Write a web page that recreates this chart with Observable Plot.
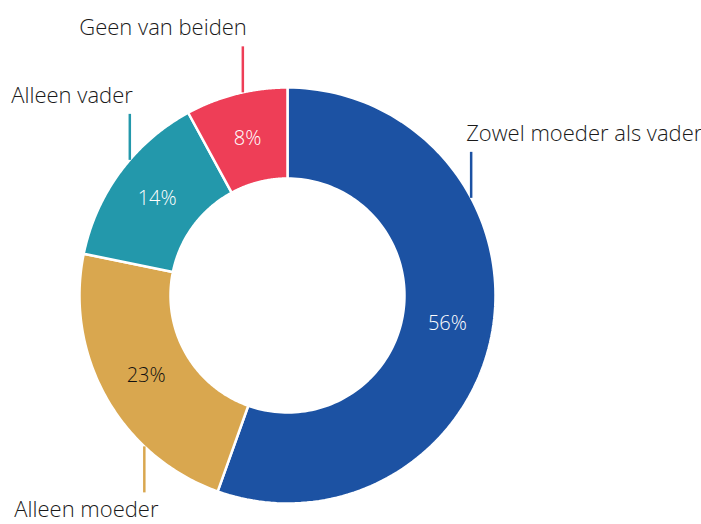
<!DOCTYPE html>
<html><head><meta charset="utf-8">
<script src="https://cdn.jsdelivr.net/npm/d3@7"></script>
<script src="https://cdn.jsdelivr.net/npm/@observablehq/plot@0.6"></script>
<style>body{margin:0;background:#fff;} svg{display:block}</style>
</head><body><div id="chart"></div>
<script>
// ---- data ----
const categories = ["Zowel moeder als vader", "Alleen moeder", "Alleen vader", "Geen van beiden"];
const values = [56, 23, 14, 8];
const colors = ["#1c52a3", "#d9a74f", "#2398ab", "#ee3e57"];
const valueTextColors = ["#ffffff", "#111111", "#ffffff", "#ffffff"];

// ---- layout ----
const W = 701, H = 524, CX = 287, CY = 295, R = 208;
const INNER = 117 / R;
const LABEL_R = 0.78;
const LEAD = 46 / R;
const leaders = [
  {angle: 62, dir: 1, anchor: "start", dx: -5, dy: -18},
  {angle: 223.5, dir: -1, anchor: "start", dx: -130, dy: 18},
  {angle: 310.7, dir: 1, anchor: "end", dx: 3, dy: -18},
  {angle: 347.6, dir: 1, anchor: "end", dx: 4, dy: -18}
];
const FONT = "'Open Sans', 'Noto Sans', sans-serif";

const arcs = d3.pie().sort(null).value(d => d)(values);
const poly = [];
arcs.forEach((a, i) => {
  const n = 120;
  for (let k = 0; k <= n; k++) {
    const t = a.startAngle + (a.endAngle - a.startAngle) * k / n;
    poly.push({key: categories[i], x: Math.sin(t), y: Math.cos(t)});
  }
  for (let k = n; k >= 0; k--) {
    const t = a.startAngle + (a.endAngle - a.startAngle) * k / n;
    poly.push({key: categories[i], x: INNER * Math.sin(t), y: INNER * Math.cos(t)});
  }
});
const pct = arcs.map((a, i) => {
  const m = (a.startAngle + a.endAngle) / 2;
  return {key: categories[i], text: values[i] + "%", x: LABEL_R * Math.sin(m), y: LABEL_R * Math.cos(m), c: valueTextColors[i]};
});
const leadData = leaders.map((l, i) => {
  const t = l.angle * Math.PI / 180;
  const x = Math.sin(t), y = Math.cos(t);
  return {key: categories[i], x1: x, y1: y, x2: x, y2: y + l.dir * LEAD, ...l};
});

const chart = Plot.plot({
  width: W, height: H,
  margin: 0,
  x: {domain: [-CX / R, (W - CX) / R], axis: null},
  y: {domain: [-(H - CY) / R, CY / R], axis: null},
  color: {domain: categories, range: colors},
  style: {fontFamily: FONT, background: "#fff"},
  marks: [
    Plot.line(poly, {x: "x", y: "y", z: "key", fill: "key", stroke: "white", strokeWidth: 2.5, curve: "linear-closed"}),
    Plot.text(pct, {x: "x", y: "y", text: "text", fill: d => d.c, fontSize: 20, fontWeight: 300}),
    Plot.link(leadData, {x1: "x1", y1: "y1", x2: "x2", y2: "y2", stroke: "key", strokeWidth: 2.5}),
    ...leadData.map(d => Plot.text([d], {x: "x2", y: "y2", text: "key", textAnchor: d.anchor, dx: d.dx, dy: d.dy, fill: "#1a1a1a", fontSize: 22, fontWeight: 300}))
  ]
});
document.getElementById("chart").appendChild(chart);
</script>
</body></html>
